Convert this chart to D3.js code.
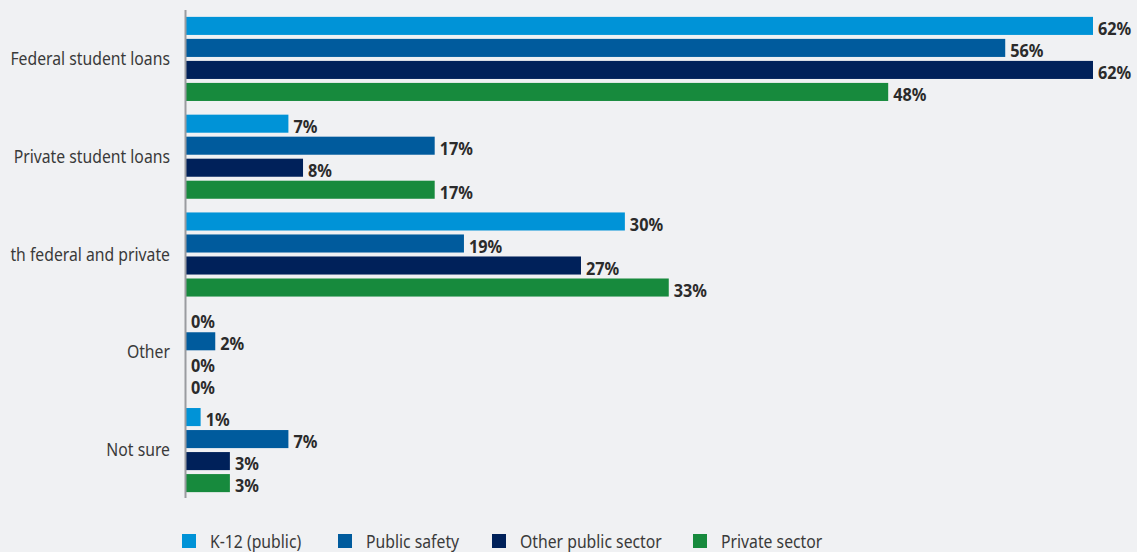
<!DOCTYPE html>
<html>
<head>
<meta charset="utf-8">
<script src="https://cdn.jsdelivr.net/npm/d3@7"></script>
<style>
  html, body { margin: 0; padding: 0; background: #f0f1f3; }
  svg { display: block; }
</style>
</head>
<body>
<svg id="chart" width="1137" height="552"></svg>
<script>
// Loan types (categories) and respondent groups (series)
const categories = ["Federal student loans", "Private student loans", "Both federal and private", "Other", "Not sure"];
const seriesNames = ["K-12 (public)", "Public safety", "Other public sector", "Private sector"];
const seriesColors = ["#0093d7", "#005b9d", "#00215a", "#178a3d"];

// Percent of respondents, one array per series, in category order
const k12 = [62, 7, 30, 0, 1];
const publicSafety = [56, 17, 19, 2, 7];
const otherPublic = [62, 8, 27, 0, 3];
const privateSector = [48, 17, 33, 0, 3];
const seriesValues = [k12, publicSafety, otherPublic, privateSector];

const svg = d3.select("#chart");
const W = 1137, H = 552;
const margin = { top: 10, left: 186, bottom: 54 };
const plotBottom = H - margin.bottom;

const y0 = d3.scaleBand().domain(categories).range([margin.top + 1, plotBottom]).paddingInner(0.14).paddingOuter(0.06);
const y1 = d3.scaleBand().domain(seriesNames).range([0, y0.bandwidth()]).paddingInner(0.18);
const x = d3.scaleLinear().domain([0, 62]).range([margin.left, 1093]);

// Condensed look: regular face squeezed horizontally
const labelFont = "'Noto Sans', 'DejaVu Sans', sans-serif";
const squeeze = 0.83;
const valueSqueeze = 0.93;

// Category labels, clipped at the left edge
svg.append("clipPath").attr("id", "lbl-clip")
  .append("rect").attr("x", 10).attr("y", 0).attr("width", W).attr("height", H);

svg.append("g").attr("clip-path", "url(#lbl-clip)")
  .selectAll("g").data(categories).join("g")
  .attr("transform", d => `translate(170,${y0(d) + y0.bandwidth() / 2 + 6}) scale(${squeeze},1)`)
  .append("text")
  .attr("text-anchor", "end")
  .attr("font-family", labelFont)
  .attr("font-size", 19)
  .attr("fill", "#3a3a3a")
  .text(d => d);

// Bars and value labels
const groups = svg.append("g").selectAll("g").data(categories).join("g")
  .attr("transform", d => `translate(0,${y0(d)})`);

seriesNames.forEach((s, si) => {
  groups.append("rect")
    .attr("x", x(0))
    .attr("y", y1(s))
    .attr("width", (d, ci) => Math.max(0, x(seriesValues[si][ci]) - x(0)))
    .attr("height", y1.bandwidth())
    .attr("fill", seriesColors[si]);
  groups.append("g")
    .attr("transform", (d, ci) => `translate(${x(seriesValues[si][ci]) + 5},${y1(s) + y1.bandwidth()}) scale(${valueSqueeze},1)`)
    .append("text")
    .attr("font-family", labelFont)
    .attr("font-weight", "bold")
    .attr("font-size", 17.5)
    .attr("fill", "#2b2b2b")
    .text((d, ci) => seriesValues[si][ci] + "%");
});

// Vertical axis line
svg.append("line")
  .attr("x1", margin.left - 0.5).attr("x2", margin.left - 0.5)
  .attr("y1", margin.top).attr("y2", plotBottom)
  .attr("stroke", "#9a9ca0").attr("stroke-width", 2);

// Legend
const legendX = [182, 338, 492, 693];
const legend = svg.append("g").selectAll("g").data(seriesNames).join("g")
  .attr("transform", (d, i) => `translate(${legendX[i]},534)`);
legend.append("rect").attr("width", 14).attr("height", 14).attr("fill", (d, i) => seriesColors[i]);
legend.append("g")
  .attr("transform", `translate(28,14) scale(${squeeze},1)`)
  .append("text")
  .attr("font-family", labelFont)
  .attr("font-size", 19)
  .attr("fill", "#3a3a3a")
  .text(d => d);
</script>
</body>
</html>
